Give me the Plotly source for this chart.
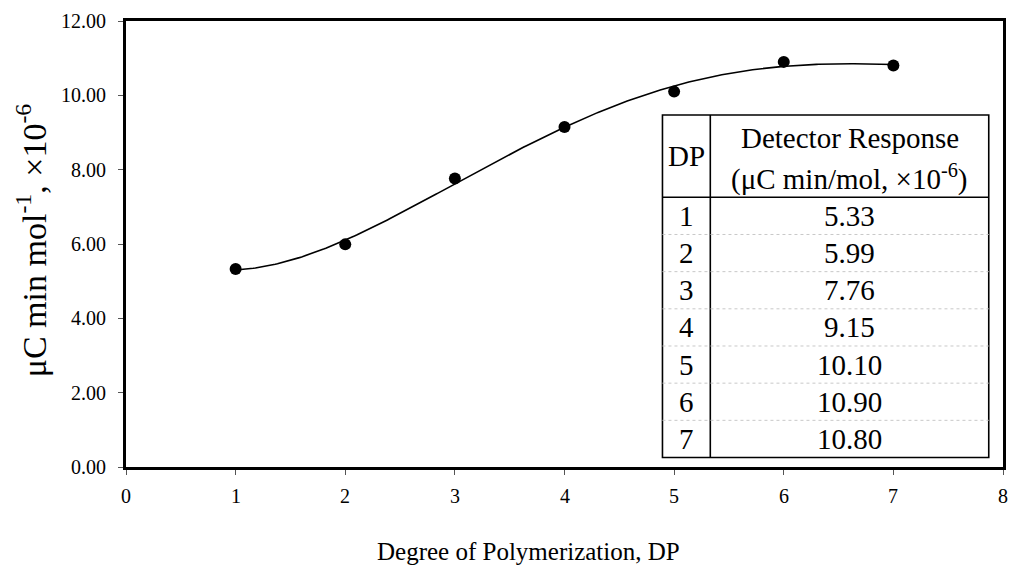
import numpy as np
import plotly.graph_objects as go

# ---- data ----
dp = [1, 2, 3, 4, 5, 6, 7]
response = [5.33, 5.99, 7.76, 9.15, 10.10, 10.90, 10.80]
x_ticks = [0, 1, 2, 3, 4, 5, 6, 7, 8]
y_ticks = [0, 2, 4, 6, 8, 10, 12]
x_ticklabels = [str(v) for v in x_ticks]
y_ticklabels = [f"{v:.2f}" for v in y_ticks]

FONT = "'Liberation Serif', 'Times New Roman', Times, serif"

# trendline (4th order polynomial fit of the data, as in the original)
coefs = np.polyfit(dp, response, 4)
xf = np.linspace(min(dp), max(dp), 300)
yf = np.polyval(coefs, xf)

fig = go.Figure()
fig.add_trace(go.Scatter(x=xf, y=yf, mode="lines",
                         line=dict(color="black", width=1.6),
                         hoverinfo="skip", showlegend=False))
fig.add_trace(go.Scatter(x=dp, y=response, mode="markers",
                         marker=dict(color="black", size=12),
                         showlegend=False))

L, R, T, B = 126, 6, 21, 112
W, H = 1012, 579
fig.update_layout(
    width=W, height=H,
    margin=dict(l=L, r=R, t=T, b=B, pad=0),
    paper_bgcolor="white", plot_bgcolor="white",
    font=dict(family=FONT, color="black", size=20),
    showlegend=False,
    xaxis=dict(range=[0, 8], tickvals=x_ticks, showticklabels=False,
               showgrid=False, zeroline=False,
               showline=True, mirror=True, linecolor="black", linewidth=2.5,
               ticks="outside", ticklen=5, tickwidth=1, tickcolor="#555"),
    yaxis=dict(range=[0, 12], tickvals=y_ticks, showticklabels=False,
               showgrid=False, zeroline=False,
               showline=True, mirror=True, linecolor="black", linewidth=2.5,
               ticks="outside", ticklen=5, tickwidth=1, tickcolor="#555"),
)

pw = W - L - R
ph = H - T - B
def px(x):
    return (x - L) / pw
def py(y):
    return (H - B - y) / ph

tickf = dict(family=FONT, size=20, color="black")
for v, t in zip(x_ticks, x_ticklabels):
    fig.add_annotation(text=t, xref="x", yref="paper", x=v, y=py(496),
                       xanchor="center", yanchor="middle", showarrow=False, font=tickf)
for v, t in zip(y_ticks, y_ticklabels):
    fig.add_annotation(text=t, xref="paper", yref="y", x=px(108), y=v,
                       xanchor="right", yanchor="middle", showarrow=False, font=tickf)

# axis titles
fig.add_annotation(text="Degree of Polymerization, DP", xref="paper", yref="paper",
                   x=px(530), y=py(551), xanchor="center", yanchor="middle",
                   showarrow=False, font=dict(family=FONT, size=25, color="black"))
fig.add_annotation(text="μC min mol<sup>-1</sup>, ×10<sup>-6</sup>", xref="paper", yref="paper",
                   x=px(31), y=py(240), xanchor="center", yanchor="middle", textangle=-90,
                   showarrow=False, font=dict(family=FONT, size=34, color="black"))

# ---- inset table ----
tl, tdiv, tr = px(664.3), px(712.3), px(991.7)
tt, thb, tb = py(115), py(197.3), py(457.5)
shapes = []
shapes.append(dict(type="rect", xref="paper", yref="paper", x0=tl, x1=tr, y0=tb, y1=tt,
                   fillcolor="white", line=dict(color="black", width=1.6), layer="above"))
shapes.append(dict(type="line", xref="paper", yref="paper", x0=tl, x1=tr, y0=thb, y1=thb,
                   line=dict(color="black", width=1.6), layer="above"))
shapes.append(dict(type="line", xref="paper", yref="paper", x0=tdiv, x1=tdiv, y0=tb, y1=tt,
                   line=dict(color="black", width=1.6), layer="above"))
n = len(dp)
rh = (thb - tb) / n
for k in range(1, n):
    yy = tb + k * rh
    shapes.append(dict(type="line", xref="paper", yref="paper", x0=tl, x1=tr, y0=yy, y1=yy,
                       line=dict(color="#c8c8c8", width=1, dash="dot"), layer="above"))
fig.update_layout(shapes=shapes)

tf = dict(family=FONT, size=29, color="black")
cdp = (tl + tdiv) / 2
cval = (tdiv + tr) / 2
fig.add_annotation(text="DP", xref="paper", yref="paper", x=cdp, y=(tt + thb) / 2,
                   xanchor="center", yanchor="middle", showarrow=False, font=tf)
fig.add_annotation(text="Detector Response", xref="paper", yref="paper", x=cval, y=py(138),
                   xanchor="center", yanchor="middle", showarrow=False, font=tf)
fig.add_annotation(text="(μC min/mol, ×10<sup>-6</sup>)", xref="paper", yref="paper", x=cval, y=py(177),
                   xanchor="center", yanchor="middle", showarrow=False, font=tf)
for i, (d, v) in enumerate(zip(dp, response)):
    yc = thb - (i + 0.5) * rh
    fig.add_annotation(text=str(d), xref="paper", yref="paper", x=cdp, y=yc,
                       xanchor="center", yanchor="middle", showarrow=False, font=tf)
    fig.add_annotation(text=f"{v:.2f}", xref="paper", yref="paper", x=cval, y=yc,
                       xanchor="center", yanchor="middle", showarrow=False, font=tf)

fig.write_html("out.html")
